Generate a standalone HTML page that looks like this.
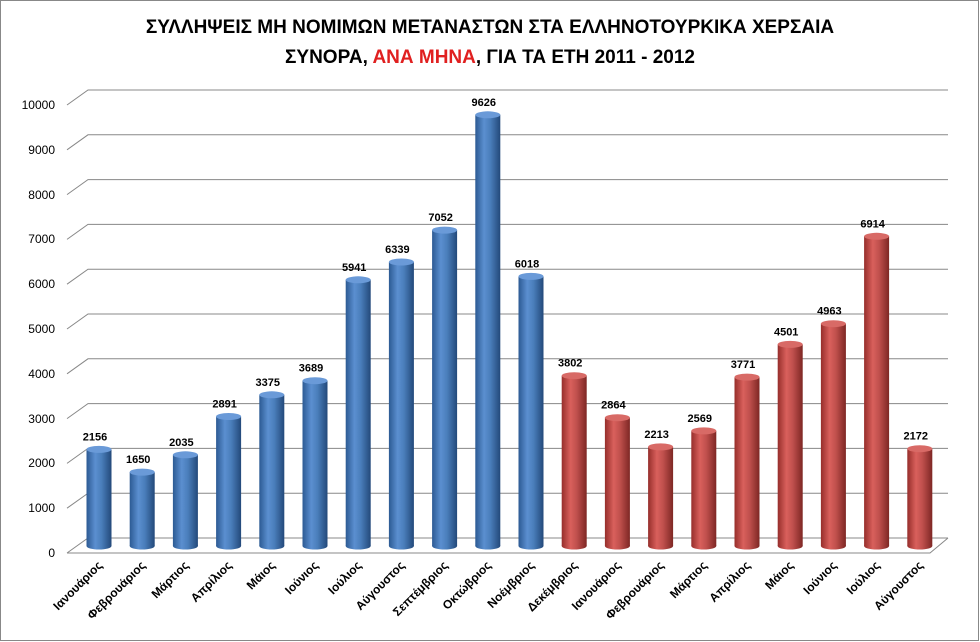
<!DOCTYPE html>
<html><head><meta charset="utf-8"><style>
body{margin:0;background:#fff}
svg{display:block;font-family:"Liberation Sans","DejaVu Sans",sans-serif}
</style></head><body>
<svg width="980" height="642" viewBox="0 0 980 642" xmlns="http://www.w3.org/2000/svg">
<defs>
<linearGradient id="gb" x1="0" x2="1" y1="0" y2="0">
<stop offset="0" stop-color="#2c5a93"/><stop offset="0.35" stop-color="#5b8fd0"/><stop offset="0.6" stop-color="#4a7ebb"/><stop offset="1" stop-color="#23497a"/></linearGradient>
<linearGradient id="gr" x1="0" x2="1" y1="0" y2="0">
<stop offset="0" stop-color="#962e2b"/><stop offset="0.35" stop-color="#d9605c"/><stop offset="0.6" stop-color="#c0504d"/><stop offset="1" stop-color="#7e2724"/></linearGradient>
</defs>
<rect x="0.5" y="0.5" width="978" height="640" fill="#fff" stroke="#888"/>
<text x="490" y="33" font-size="19" font-weight="bold" text-anchor="middle">ΣΥΛΛΗΨΕΙΣ ΜΗ ΝΟΜΙΜΩΝ ΜΕΤΑΝΑΣΤΩΝ ΣΤΑ ΕΛΛΗΝΟΤΟΥΡΚΙΚΑ ΧΕΡΣΑΙΑ</text>
<text x="490" y="63" font-size="19" font-weight="bold" text-anchor="middle">ΣΥΝΟΡΑ, <tspan fill="#e02020">ΑΝΑ ΜΗΝΑ</tspan>, ΓΙΑ ΤΑ ΕΤΗ 2011 - 2012</text>
<g stroke="#888" fill="none">
<path d="M67 553 L88 538 L948 538"/>
<path d="M67 508.2 L88 493.2 L948 493.2"/>
<path d="M67 463.4 L88 448.4 L948 448.4"/>
<path d="M67 418.6 L88 403.6 L948 403.6"/>
<path d="M67 373.8 L88 358.8 L948 358.8"/>
<path d="M67 329 L88 314 L948 314"/>
<path d="M67 284.2 L88 269.2 L948 269.2"/>
<path d="M67 239.4 L88 224.4 L948 224.4"/>
<path d="M67 194.6 L88 179.6 L948 179.6"/>
<path d="M67 149.8 L88 134.8 L948 134.8"/>
<path d="M67 105 L88 90 L948 90"/>
<path d="M67 553 L930 553 L948 538"/>
</g>
<g font-size="12" text-anchor="end">
<text x="55" y="557">0</text><text x="55" y="512">1000</text><text x="55" y="467">2000</text><text x="55" y="423">3000</text><text x="55" y="378">4000</text><text x="55" y="333">5000</text><text x="55" y="288">6000</text><text x="55" y="243">7000</text><text x="55" y="199">8000</text><text x="55" y="154">9000</text><text x="55" y="109">10000</text>
</g>
<g fill="url(#gb)">
<rect x="86.5" y="449.4" width="25" height="96.6"/><ellipse cx="99" cy="546" rx="12.5" ry="3.5"/>
<rect x="129.7" y="472.1" width="25" height="73.9"/><ellipse cx="142.2" cy="546" rx="12.5" ry="3.5"/>
<rect x="172.9" y="454.8" width="25" height="91.2"/><ellipse cx="185.4" cy="546" rx="12.5" ry="3.5"/>
<rect x="216.1" y="416.5" width="25" height="129.5"/><ellipse cx="228.6" cy="546" rx="12.5" ry="3.5"/>
<rect x="259.3" y="394.8" width="25" height="151.2"/><ellipse cx="271.8" cy="546" rx="12.5" ry="3.5"/>
<rect x="302.5" y="380.7" width="25" height="165.3"/><ellipse cx="315" cy="546" rx="12.5" ry="3.5"/>
<rect x="345.7" y="279.8" width="25" height="266.2"/><ellipse cx="358.2" cy="546" rx="12.5" ry="3.5"/>
<rect x="388.9" y="262" width="25" height="284"/><ellipse cx="401.4" cy="546" rx="12.5" ry="3.5"/>
<rect x="432.1" y="230.1" width="25" height="315.9"/><ellipse cx="444.6" cy="546" rx="12.5" ry="3.5"/>
<rect x="475.3" y="114.8" width="25" height="431.2"/><ellipse cx="487.8" cy="546" rx="12.5" ry="3.5"/>
<rect x="518.5" y="276.4" width="25" height="269.6"/><ellipse cx="531" cy="546" rx="12.5" ry="3.5"/>
</g>
<g fill="url(#gr)">
<rect x="561.7" y="375.7" width="25" height="170.3"/><ellipse cx="574.2" cy="546" rx="12.5" ry="3.5"/>
<rect x="604.9" y="417.7" width="25" height="128.3"/><ellipse cx="617.4" cy="546" rx="12.5" ry="3.5"/>
<rect x="648.1" y="446.9" width="25" height="99.1"/><ellipse cx="660.6" cy="546" rx="12.5" ry="3.5"/>
<rect x="691.3" y="430.9" width="25" height="115.1"/><ellipse cx="703.8" cy="546" rx="12.5" ry="3.5"/>
<rect x="734.5" y="377.1" width="25" height="168.9"/><ellipse cx="747" cy="546" rx="12.5" ry="3.5"/>
<rect x="777.7" y="344.4" width="25" height="201.6"/><ellipse cx="790.2" cy="546" rx="12.5" ry="3.5"/>
<rect x="820.9" y="323.7" width="25" height="222.3"/><ellipse cx="833.4" cy="546" rx="12.5" ry="3.5"/>
<rect x="864.1" y="236.3" width="25" height="309.7"/><ellipse cx="876.6" cy="546" rx="12.5" ry="3.5"/>
<rect x="907.3" y="448.7" width="25" height="97.3"/><ellipse cx="919.8" cy="546" rx="12.5" ry="3.5"/>
</g>
<g fill="#6a9ad8">
<ellipse cx="99" cy="449.4" rx="12.5" ry="3.5"/><ellipse cx="142.2" cy="472.1" rx="12.5" ry="3.5"/><ellipse cx="185.4" cy="454.8" rx="12.5" ry="3.5"/><ellipse cx="228.6" cy="416.5" rx="12.5" ry="3.5"/><ellipse cx="271.8" cy="394.8" rx="12.5" ry="3.5"/><ellipse cx="315" cy="380.7" rx="12.5" ry="3.5"/><ellipse cx="358.2" cy="279.8" rx="12.5" ry="3.5"/><ellipse cx="401.4" cy="262" rx="12.5" ry="3.5"/><ellipse cx="444.6" cy="230.1" rx="12.5" ry="3.5"/><ellipse cx="487.8" cy="114.8" rx="12.5" ry="3.5"/><ellipse cx="531" cy="276.4" rx="12.5" ry="3.5"/>
</g>
<g fill="#d86a66">
<ellipse cx="574.2" cy="375.7" rx="12.5" ry="3.5"/><ellipse cx="617.4" cy="417.7" rx="12.5" ry="3.5"/><ellipse cx="660.6" cy="446.9" rx="12.5" ry="3.5"/><ellipse cx="703.8" cy="430.9" rx="12.5" ry="3.5"/><ellipse cx="747" cy="377.1" rx="12.5" ry="3.5"/><ellipse cx="790.2" cy="344.4" rx="12.5" ry="3.5"/><ellipse cx="833.4" cy="323.7" rx="12.5" ry="3.5"/><ellipse cx="876.6" cy="236.3" rx="12.5" ry="3.5"/><ellipse cx="919.8" cy="448.7" rx="12.5" ry="3.5"/>
</g>
<g font-size="11" font-weight="bold" text-anchor="middle">
<text x="95" y="440.4">2156</text><text x="138.2" y="463.1">1650</text><text x="181.4" y="445.8">2035</text><text x="224.6" y="407.5">2891</text><text x="267.8" y="385.8">3375</text><text x="311" y="371.7">3689</text><text x="354.2" y="270.8">5941</text><text x="397.4" y="253">6339</text><text x="440.6" y="221.1">7052</text><text x="483.8" y="105.8">9626</text><text x="527" y="267.4">6018</text><text x="570.2" y="366.7">3802</text><text x="613.4" y="408.7">2864</text><text x="656.6" y="437.9">2213</text><text x="699.8" y="421.9">2569</text><text x="743" y="368.1">3771</text><text x="786.2" y="335.4">4501</text><text x="829.4" y="314.7">4963</text><text x="872.6" y="227.3">6914</text><text x="915.8" y="439.7">2172</text>
</g>
<g font-size="12" font-weight="bold" text-anchor="end">
<text transform="translate(103,566) rotate(-45)">Ιανουάριος</text>
<text transform="translate(146.2,566) rotate(-45)">Φεβρουάριος</text>
<text transform="translate(189.4,566) rotate(-45)">Μάρτιος</text>
<text transform="translate(232.6,566) rotate(-45)">Απρίλιος</text>
<text transform="translate(275.8,566) rotate(-45)">Μάιος</text>
<text transform="translate(319,566) rotate(-45)">Ιούνιος</text>
<text transform="translate(362.2,566) rotate(-45)">Ιούλιος</text>
<text transform="translate(405.4,566) rotate(-45)">Αύγουστος</text>
<text transform="translate(448.6,566) rotate(-45)">Σεπτέμβριος</text>
<text transform="translate(491.8,566) rotate(-45)">Οκτώβριος</text>
<text transform="translate(535,566) rotate(-45)">Νοέμβριος</text>
<text transform="translate(578.2,566) rotate(-45)">Δεκέμβριος</text>
<text transform="translate(621.4,566) rotate(-45)">Ιανουάριος</text>
<text transform="translate(664.6,566) rotate(-45)">Φεβρουάριος</text>
<text transform="translate(707.8,566) rotate(-45)">Μάρτιος</text>
<text transform="translate(751,566) rotate(-45)">Απρίλιος</text>
<text transform="translate(794.2,566) rotate(-45)">Μάιος</text>
<text transform="translate(837.4,566) rotate(-45)">Ιούνιος</text>
<text transform="translate(880.6,566) rotate(-45)">Ιούλιος</text>
<text transform="translate(923.8,566) rotate(-45)">Αύγουστος</text>
</g>
</svg>
</body></html>
